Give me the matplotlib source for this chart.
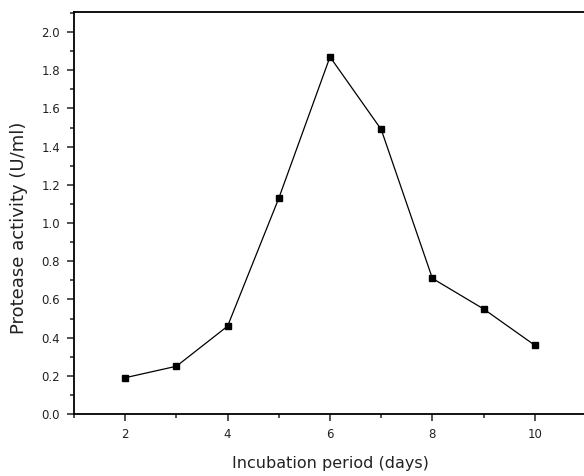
import matplotlib
matplotlib.use("Agg")
import matplotlib.pyplot as plt
from matplotlib.ticker import MultipleLocator, FormatStrFormatter

days = [2, 3, 4, 5, 6, 7, 8, 9, 10]
activity = [0.19, 0.25, 0.46, 1.13, 1.87, 1.49, 0.71, 0.55, 0.36]

plt.rcParams['font.family'] = ['DejaVu Sans']

fig = plt.figure(figsize=(5.84, 4.76), dpi=100)
ax = fig.add_axes([74/584, 62/476, 512/584, 402/476])
ax.plot(days, activity, color='black', lw=0.9, marker='s', markersize=5,
        markerfacecolor='black', markeredgecolor='black')
ax.set_xlim(1, 11)
ax.set_ylim(0, 2.105)
ax.xaxis.set_major_locator(MultipleLocator(2))
ax.xaxis.set_minor_locator(MultipleLocator(1))
ax.yaxis.set_major_locator(MultipleLocator(0.2))
ax.yaxis.set_minor_locator(MultipleLocator(0.1))
ax.yaxis.set_major_formatter(FormatStrFormatter('%.1f'))
ax.tick_params(which='major', direction='out', length=5, width=1.1,
               labelsize=8.5, pad=5, colors='#222222')
ax.tick_params(which='minor', direction='out', length=3, width=1.1, colors='#222222')
ax.tick_params(top=False, right=False, which='both')
ax.spines['right'].set_visible(False)
for s in ['left', 'bottom', 'top']:
    ax.spines[s].set_linewidth(1.3)
ax.set_xlabel('Incubation period (days)', fontsize=11.5, labelpad=11, color='#222222')
ax.set_ylabel('Protease activity (U/ml)', fontsize=13, color='#222222')
ax.yaxis.set_label_coords(-0.09, 0.464)

fig.savefig('out.png', dpi=100)
